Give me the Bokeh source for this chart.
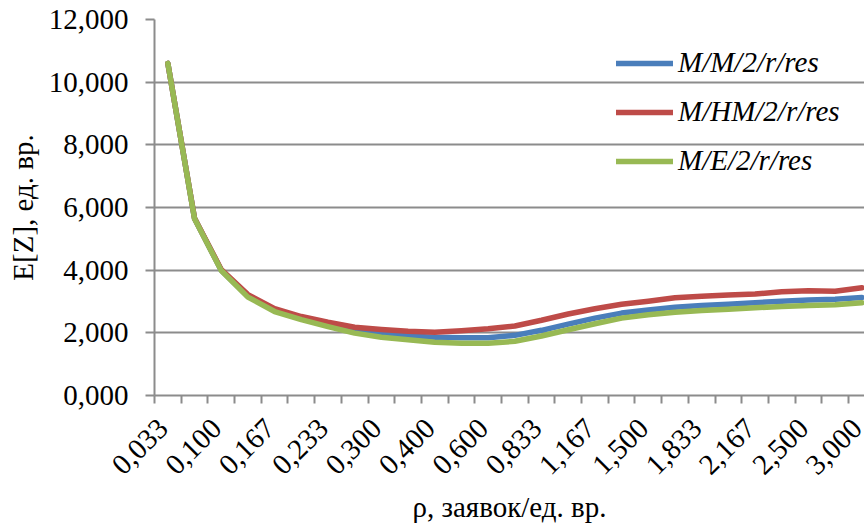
import math
from bokeh.plotting import figure
from bokeh.models import Range1d, FixedTicker, Legend, LegendItem, ColumnDataSource
from bokeh.embed import file_html
from bokeh.resources import INLINE

# ---- data ----
rho_labels = ["0,033", "0,067", "0,100", "0,133", "0,167", "0,200", "0,233", "0,267",
              "0,300", "0,333", "0,400", "0,500", "0,600", "0,700", "0,833", "1,000",
              "1,167", "1,333", "1,500", "1,667", "1,833", "2,000", "2,167", "2,333",
              "2,500", "2,750", "3,000"]
ez_mm = [10.60, 5.65, 4.00, 3.17, 2.72, 2.46, 2.23, 2.02, 1.97, 1.90, 1.86, 1.84, 1.84,
         1.92, 2.08, 2.28, 2.47, 2.63, 2.73, 2.82, 2.87, 2.91, 2.96, 3.01, 3.05, 3.07, 3.13]
ez_hm = [10.60, 5.66, 4.02, 3.22, 2.77, 2.52, 2.34, 2.18, 2.11, 2.05, 2.02, 2.07, 2.13,
         2.22, 2.40, 2.60, 2.77, 2.91, 3.01, 3.12, 3.17, 3.21, 3.24, 3.31, 3.34, 3.33, 3.44]
ez_e = [10.60, 5.64, 3.99, 3.14, 2.68, 2.42, 2.20, 1.99, 1.86, 1.78, 1.70, 1.67, 1.67,
        1.73, 1.90, 2.10, 2.29, 2.47, 2.58, 2.66, 2.71, 2.75, 2.80, 2.84, 2.87, 2.90, 2.96]
series_names = ["M/M/2/r/res", "M/HM/2/r/res", "M/E/2/r/res"]
series_colors = ["#4A7EBB", "#BE4B48", "#98B954"]
y_ticks = [0, 2, 4, 6, 8, 10, 12]
y_tick_labels = ["0,000", "2,000", "4,000", "6,000", "8,000", "10,000", "12,000"]
x_title = "ρ, заявок/ед. вр."
y_title = "E[Z], ед. вр."

FONT = "serif"
FS = "29px"
GRID = "#8C8C8C"
LABEL_SHIFT = 0.18  # nudge rotated labels left so the last one stays inside

idx = list(range(len(rho_labels)))
src = ColumnDataSource(dict(x=idx, mm=ez_mm, hm=ez_hm, e=ez_e))

p = figure(width=864, height=526, output_backend="svg", toolbar_location=None,
           x_range=Range1d(-0.5, 26.1), y_range=Range1d(0, 12),
           min_border_left=154, min_border_right=0, min_border_top=19,
           min_border_bottom=131)
p.outline_line_color = None

# axes
label_pos = [i - LABEL_SHIFT for i in idx[::2]]
xa = p.xaxis[0]
xa.ticker = FixedTicker(ticks=label_pos, minor_ticks=[i - 0.5 for i in range(len(idx) + 1)])
xa.major_label_overrides = {pos: rho_labels[i] for pos, i in zip(label_pos, idx[::2])}
xa.major_label_orientation = math.pi / 4
xa.major_tick_out = 0
xa.major_tick_in = 0
xa.minor_tick_out = 8
xa.minor_tick_in = 0
xa.minor_tick_line_color = GRID
xa.minor_tick_line_width = 2
xa.axis_line_color = GRID
xa.axis_line_width = 2
xa.major_label_text_font = FONT
xa.major_label_text_font_size = FS
xa.major_label_text_color = "black"
xa.major_label_standoff = 20
xa.axis_label = x_title
xa.axis_label_text_font = FONT
xa.axis_label_text_font_size = FS
xa.axis_label_text_font_style = "normal"
xa.axis_label_text_color = "black"
xa.axis_label_standoff = 5

ya = p.yaxis[0]
ya.ticker = FixedTicker(ticks=y_ticks, minor_ticks=[])
ya.major_label_overrides = {t: l for t, l in zip(y_ticks, y_tick_labels)}
ya.major_tick_out = 9
ya.major_tick_in = 0
ya.major_tick_line_color = GRID
ya.major_tick_line_width = 2
ya.axis_line_color = GRID
ya.axis_line_width = 2
ya.major_label_text_font = FONT
ya.major_label_text_font_size = FS
ya.major_label_text_color = "black"
ya.major_label_standoff = 17
ya.axis_label = y_title
ya.axis_label_text_font = FONT
ya.axis_label_text_font_size = FS
ya.axis_label_text_font_style = "normal"
ya.axis_label_text_color = "black"
ya.axis_label_standoff = 7

p.xgrid.grid_line_color = None
p.ygrid.grid_line_color = GRID
p.ygrid.grid_line_width = 2

renderers = []
for key, color in zip(["mm", "hm", "e"], series_colors):
    r = p.line("x", key, source=src, line_color=color, line_width=5.5,
               line_join="round", line_cap="round")
    renderers.append(r)

legend = Legend(items=[LegendItem(label=n, renderers=[r]) for n, r in zip(series_names, renderers)],
                location=(462, 218), padding=0, margin=0, spacing=16,
                glyph_width=57, glyph_height=28, label_height=28, label_standoff=5,
                border_line_color=None, background_fill_alpha=0,
                label_text_font=FONT, label_text_font_size=FS,
                label_text_font_style="italic", label_text_color="black")
p.add_layout(legend)

open("out.html", "w").write(file_html(p, INLINE))
